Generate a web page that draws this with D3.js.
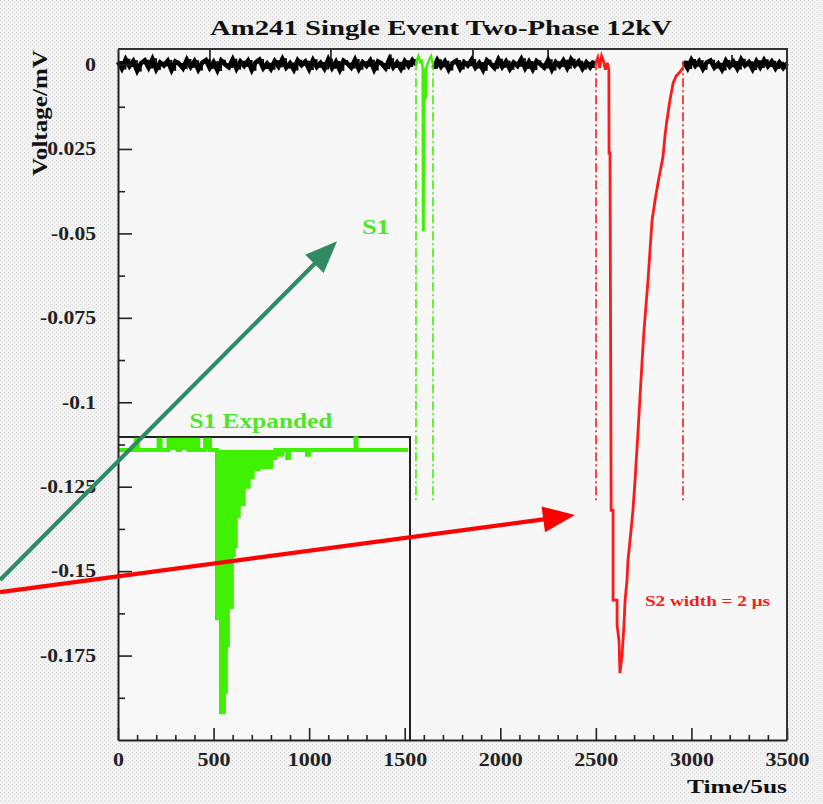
<!DOCTYPE html>
<html>
<head>
<meta charset="utf-8">
<script src="https://cdn.jsdelivr.net/npm/d3@7"></script>
<style>
body { margin: 0; background: #efefef; }
text { font-family: "Liberation Serif", "Times New Roman", serif; font-weight: bold; }
</style>
</head>
<body>
<div id="chart"></div>
<script>
/**********************/
/******* data         */
/**********************/

const xTicks = [0, 500, 1000, 1500, 2000, 2500, 3000, 3500];
const xTickLabels = ["0", "500", "1000", "1500", "2000", "2500", "3000", "3500"];
const yTicks = [0, -0.025, -0.05, -0.075, -0.1, -0.125, -0.15, -0.175];
const yTickLabels = ["0", "-0.025", "-0.05", "-0.075", "-0.1", "-0.125", "-0.15", "-0.175"];

// baseline noise (mV), one sample every 20 time units
const noiseStep = 20;
const noise1Start = 0;
const noise1 = [
  0.0008, -0.0012, 0.0015, -0.0005, 0.0010, -0.0018, 0.0004, 0.0012, -0.0009, 0.0016,
  -0.0014, 0.0006, -0.0003, 0.0011, -0.0016, 0.0009, 0.0002, -0.0011, 0.0014, -0.0007,
  0.0010, -0.0015, 0.0005, 0.0013, -0.0010, 0.0007, -0.0017, 0.0012, 0.0001, -0.0008,
  0.0015, -0.0012, 0.0009, -0.0004, 0.0011, -0.0016, 0.0006, 0.0014, -0.0011, 0.0003,
  -0.0013, 0.0010, -0.0006, 0.0016, -0.0009, 0.0004, -0.0015, 0.0012, -0.0002, 0.0009,
  -0.0014, 0.0013, -0.0007, 0.0005, -0.0012, 0.0015, -0.0010, 0.0008, -0.0016, 0.0011,
  0.0003, -0.0009, 0.0014, -0.0013, 0.0007, -0.0004, 0.0012, -0.0015, 0.0009, 0.0002,
  -0.0011, 0.0016, -0.0008, 0.0006, -0.0013, 0.0010, -0.0005, 0.0013, 0.0000
];
const noise2Start = 1650;
const noise2 = [
  -0.0010, 0.0013, -0.0006, 0.0009, -0.0015, 0.0004, 0.0011, -0.0012, 0.0007, -0.0003,
  0.0014, -0.0009, 0.0005, -0.0016, 0.0012, 0.0002, -0.0010, 0.0015, -0.0007, 0.0009,
  -0.0013, 0.0006, -0.0004, 0.0016, -0.0011, 0.0008, -0.0014, 0.0010, 0.0001, -0.0009,
  0.0013, -0.0015, 0.0007, -0.0005, 0.0012, -0.0010, 0.0015, -0.0003, 0.0009, -0.0012,
  0.0006, -0.0008, 0.0011
];
const noise3Start = 2960;
const noise3 = [
  0.0009, -0.0011, 0.0014, -0.0004, 0.0010, -0.0013, 0.0006, 0.0012, -0.0009, 0.0003,
  -0.0015, 0.0011, -0.0006, 0.0008, -0.0012, 0.0015, -0.0003, 0.0007, -0.0014, 0.0010,
  -0.0008, 0.0013, -0.0005, 0.0009, -0.0011, 0.0006, -0.0010, 0.0004
];
// single upward noise spikes
const spikeT = [481, 1114, 1428, 1857, 2250, 3212];
const spikeV = [0.0045, 0.0044, 0.0030, 0.0045, 0.0046, 0.0028];

// S1 pulse (green)
const s1T = [1559, 1565, 1572, 1580, 1588, 1594, 1596, 1599, 1601, 1606, 1608, 1611, 1613, 1622, 1630, 1638, 1644, 1648];
const s1V = [0.0000, 0.0015, 0.0025, 0.0008, 0.0012, -0.0010, -0.0490, -0.0490, -0.0020, -0.0015, -0.0100, -0.0098, -0.0010, 0.0005, 0.0018, 0.0025, 0.0010, 0.0000];

// S2 pulse (red)
const s2T = [2500, 2510, 2520, 2530, 2540, 2550, 2560, 2568, 2569, 2574, 2580, 2590, 2590, 2611, 2611, 2621, 2626,
  2637, 2647, 2653, 2663, 2668, 2684, 2694, 2705, 2721, 2736, 2752, 2773, 2794, 2810, 2825, 2851, 2862, 2872, 2888,
  2904, 2920, 2940, 2956];
const s2V = [0.0005, 0.0020, -0.0010, 0.0025, 0.0010, -0.0015, 0.0005, -0.0016, -0.0262, -0.0262, -0.1320, -0.1320,
  -0.1586, -0.1586, -0.1660, -0.1705, -0.1802, -0.1749, -0.1660, -0.1586, -0.1527, -0.1468, -0.1379, -0.1320,
  -0.1231, -0.1083, -0.0934, -0.0786, -0.0638, -0.0461, -0.0401, -0.0351, -0.0274, -0.0209, -0.0164, -0.0105,
  -0.0055, -0.0034, -0.0022, -0.0010];

// signal windows (dash-dot markers)
const s1Window = [1559, 1648];
const s2Window = [2501, 2956];
const windowTop = 0.001, windowBottom = -0.129;

// S1 expanded inset: histogram bins (step starts) and amplitudes in mV
const insetBins = 146;
const insetStart = [0, 8.5, 9.5, 20, 21, 25, 29.5, 31, 35, 37, 37.5, 39.5, 40, 43.5, 46,
  49.5, 51.5, 53, 54, 55, 57, 58, 59, 60.5, 63, 65.5, 67.5, 70.5, 77, 79, 81, 82.5, 85, 86, 95, 96, 119.5, 120, 146];
const insetAmp = [0, 0.0019, 0, 0.0019, 0, 0.0019, 0, 0.0019, 0, 0.0019, 0, 0.0019, 0, 0.0019, 0,
  -0.0315, -0.0491, -0.0453, -0.0365, -0.0294, -0.0197, -0.0180, -0.0124, -0.0101, -0.0069, -0.0051, -0.0036,
  -0.0032, -0.0015, 0, -0.0009, 0, -0.0015, 0, -0.0009, 0, 0.0022, 0, 0];

// annotations (time, mV)
const arrowColor = ["#2e8b62", "#ff0000"];
const arrowFromT = [-617, -617], arrowFromV = [-0.1526, -0.1562];
const arrowToT = [1146, 2391], arrowToV = [-0.0523, -0.1334];

/**********************/
/******* d3           */
/**********************/

const width = 823, height = 804;
const margin = { top: 49, right: 36, bottom: 64, left: 118 };
const green = "#3ff000", textGreen = "#4ee62a", red = "#ff1a1a";
// glyph widths used to size the (wide) bold serif tick labels
const glyphW = { "-": 7, ".": 5 }, digitW = 11;
const labelWidth = s => d3.sum(s.split(""), c => glyphW[c] || digitW);

const svg = d3.select("#chart").append("svg")
    .attr("width", width)
    .attr("height", height);

// textured paper background
const defs = svg.append("defs");
const pat = defs.append("pattern").attr("id", "paper").attr("width", 4).attr("height", 4)
    .attr("patternUnits", "userSpaceOnUse");
pat.append("rect").attr("width", 4).attr("height", 4).attr("fill", "#f2f2f2");
pat.append("rect").attr("x", 0).attr("y", 0).attr("width", 1).attr("height", 1).attr("fill", "#d9d9d9");
pat.append("rect").attr("x", 2).attr("y", 2).attr("width", 1).attr("height", 1).attr("fill", "#dddddd");
svg.append("rect").attr("width", width).attr("height", height).attr("fill", "url(#paper)");

const x = d3.scaleLinear().domain([0, 3500]).range([margin.left, width - margin.right]);
const y = d3.scaleLinear().domain([-0.2, 0.0046]).range([height - margin.bottom, margin.top]);

svg.append("rect")
    .attr("x", x(0)).attr("y", y(0.0046))
    .attr("width", x(3500) - x(0)).attr("height", y(-0.2) - y(0.0046))
    .attr("fill", "#f7f7f7");

const line = d3.line().x(d => x(d[0])).y(d => y(d[1]));

// baseline traces: dense noise drawn as a thick ragged band
[[noise1Start, noise1], [noise2Start, noise2], [noise3Start, noise3]].forEach(([t0, vals]) => {
    const pts = vals.map((v, i) => [t0 + i * noiseStep, v]);
    svg.append("path")
        .datum(pts)
        .attr("d", line)
        .attr("fill", "none")
        .attr("stroke", "#000")
        .attr("stroke-width", 4.6)
        .attr("stroke-linejoin", "miter");
    svg.append("path")
        .datum(pts)
        .attr("d", line.curve(d3.curveStepAfter))
        .attr("fill", "none")
        .attr("stroke", "#000")
        .attr("stroke-width", 1.6);
    line.curve(d3.curveLinear);
});

svg.append("g").selectAll("line")
    .data(spikeT)
    .enter()
    .append("line")
    .attr("x1", d => x(d)).attr("x2", d => x(d))
    .attr("y1", y(0)).attr("y2", (d, i) => y(spikeV[i]))
    .attr("stroke", "#000").attr("stroke-width", 1.5);

// S1 and S2 pulses
svg.append("path")
    .datum(s1T.map((t, i) => [t, s1V[i]]))
    .attr("d", line)
    .attr("fill", "none").attr("stroke", green).attr("stroke-width", 2.4);

svg.append("path")
    .datum(s2T.map((t, i) => [t, s2V[i]]))
    .attr("d", line)
    .attr("fill", "none").attr("stroke", red).attr("stroke-width", 2.8);

// dash-dot window markers
const windows = s1Window.map(t => ({ t, c: green })).concat(s2Window.map(t => ({ t, c: red })));
svg.append("g").selectAll("line")
    .data(windows)
    .enter()
    .append("line")
    .attr("x1", d => x(d.t)).attr("x2", d => x(d.t))
    .attr("y1", y(windowTop)).attr("y2", y(windowBottom))
    .attr("stroke", d => d.c)
    .attr("stroke-width", 1.6)
    .attr("stroke-dasharray", "9,3,2,3");

/**********************/
/******* inset        */
/**********************/

const insetLeft = x(0), insetRight = 410, insetTop = 437;
const ix = d3.scaleLinear().domain([0, insetBins]).range([insetLeft + 1, insetRight - 2]);
const iy = d3.scaleLinear().domain([0, -0.05]).range([450, 717]);

svg.append("rect")
    .attr("x", insetLeft).attr("y", insetTop)
    .attr("width", insetRight - insetLeft).attr("height", y(-0.2) - insetTop)
    .attr("fill", "#f8f8f8");
svg.append("path")
    .attr("d", `M${insetLeft},${insetTop}H${insetRight}V${y(-0.2)}`)
    .attr("fill", "none").attr("stroke", "#222").attr("stroke-width", 2);

const insetData = insetStart.map((b, i) => [b, insetAmp[i]]);
svg.append("path")
    .datum(insetData)
    .attr("d", d3.area().x(d => ix(d[0])).y0(iy(0)).y1(d => iy(d[1])).curve(d3.curveStepAfter))
    .attr("fill", green);
svg.append("path")
    .datum(insetData)
    .attr("d", d3.line().x(d => ix(d[0])).y(d => iy(d[1])).curve(d3.curveStepAfter))
    .attr("fill", "none").attr("stroke", green).attr("stroke-width", 4);

/**********************/
/******* axes         */
/**********************/

const xAxis = svg.append("g")
    .attr("transform", `translate(0,${y(-0.2)})`)
    .call(d3.axisBottom(x).tickValues(xTicks).tickSizeInner(-12).tickSizeOuter(0).tickPadding(13)
        .tickFormat((d, i) => xTickLabels[i]));
svg.append("g")
    .attr("transform", `translate(0,${y(-0.2)})`)
    .call(d3.axisBottom(x).tickValues(d3.range(100, 3500, 100).filter(t => t % 500 !== 0))
        .tickSizeInner(-5).tickSizeOuter(0).tickFormat(""))
    .call(g => g.select(".domain").remove());

const yAxis = svg.append("g")
    .attr("transform", `translate(${x(0)},0)`)
    .call(d3.axisLeft(y).tickValues(yTicks).tickSizeInner(-14).tickSizeOuter(0).tickPadding(22)
        .tickFormat((d, i) => yTickLabels[i]));
svg.append("g")
    .attr("transform", `translate(${x(0)},0)`)
    .call(d3.axisLeft(y).tickValues(yTicks.map(v => v - 0.0125)).tickSizeInner(-7).tickSizeOuter(0).tickFormat(""))
    .call(g => g.select(".domain").remove());

svg.selectAll(".tick line").attr("stroke", "#222").attr("stroke-width", 1.6);
svg.selectAll(".domain").attr("stroke", "#222").attr("stroke-width", 2);
[xAxis, yAxis].forEach(a => a.selectAll("text")
    .style("font-family", "'Liberation Serif', serif")
    .style("font-weight", "bold")
    .style("font-size", "18px")
    .attr("fill", "#222")
    .attr("textLength", function () { return labelWidth(d3.select(this).text()); })
    .attr("lengthAdjust", "spacingAndGlyphs"));

// frame top + right
svg.append("path")
    .attr("d", `M${x(0)},${y(0.0046)}H${x(3500)}V${y(-0.2)}`)
    .attr("fill", "none").attr("stroke", "#333").attr("stroke-width", 2);

/**********************/
/******* labels       */
/**********************/

svg.append("text")
    .attr("x", 441).attr("y", 35)
    .attr("text-anchor", "middle")
    .style("font-size", "22px")
    .attr("fill", "#111")
    .attr("textLength", 462).attr("lengthAdjust", "spacingAndGlyphs")
    .text("Am241 Single Event Two-Phase 12kV");

svg.append("text")
    .attr("transform", "translate(47,50) rotate(-90)")
    .attr("text-anchor", "end")
    .style("font-size", "20px")
    .attr("fill", "#111")
    .attr("textLength", 126).attr("lengthAdjust", "spacingAndGlyphs")
    .text("Voltage/mV");

svg.append("text")
    .attr("x", x(3500)).attr("y", 793)
    .attr("text-anchor", "end")
    .style("font-size", "19px")
    .attr("fill", "#111")
    .attr("textLength", 100).attr("lengthAdjust", "spacingAndGlyphs")
    .text("Time/5us");

svg.append("text")
    .attr("x", x(1276)).attr("y", y(-0.0502))
    .style("font-size", "22px")
    .attr("fill", textGreen)
    .attr("textLength", 28).attr("lengthAdjust", "spacingAndGlyphs")
    .text("S1");

svg.append("text")
    .attr("x", x(748)).attr("y", y(-0.1076))
    .attr("text-anchor", "middle")
    .style("font-size", "21px")
    .attr("fill", textGreen)
    .attr("textLength", 143).attr("lengthAdjust", "spacingAndGlyphs")
    .text("S1 Expanded");

svg.append("text")
    .attr("x", x(2757)).attr("y", y(-0.1603))
    .style("font-size", "15px")
    .attr("fill", red)
    .attr("textLength", 125).attr("lengthAdjust", "spacingAndGlyphs")
    .text("S2 width = 2 \u03bcs");

/**********************/
/******* arrows       */
/**********************/

arrowColor.forEach((c, i) => {
    const x0 = x(arrowFromT[i]), y0 = y(arrowFromV[i]);
    const x1 = x(arrowToT[i]), y1 = y(arrowToV[i]);
    const a = Math.atan2(y1 - y0, x1 - x0);
    const len = 32, half = 13;
    const bx = x1 - len * Math.cos(a), by = y1 - len * Math.sin(a);
    svg.append("line")
        .attr("x1", x0).attr("y1", y0).attr("x2", bx + 2 * Math.cos(a)).attr("y2", by + 2 * Math.sin(a))
        .attr("stroke", c).attr("stroke-width", 4.2);
    svg.append("path")
        .attr("d", `M${x1},${y1}L${bx - half * Math.sin(a)},${by + half * Math.cos(a)}L${bx + half * Math.sin(a)},${by - half * Math.cos(a)}Z`)
        .attr("fill", c);
});
</script>
</body>
</html>
